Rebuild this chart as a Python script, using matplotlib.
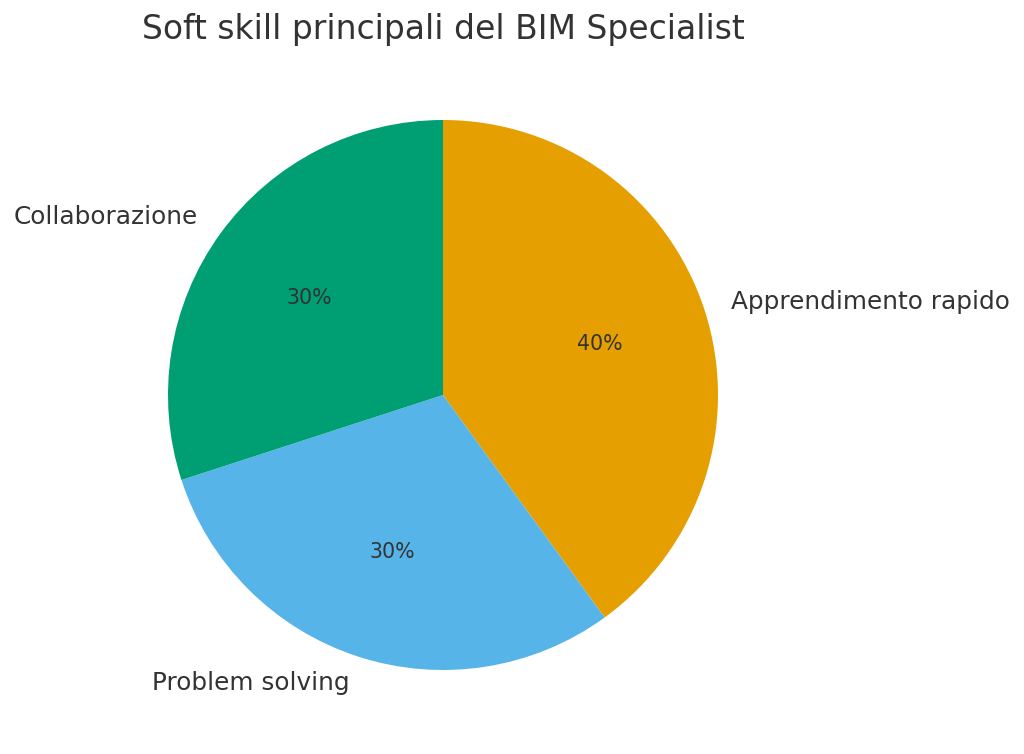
import matplotlib
matplotlib.use("Agg")
import matplotlib.pyplot as plt

labels = ["Apprendimento rapido", "Problem solving", "Collaborazione"]
values = [40, 30, 30]
colors = ["#E69F00", "#56B4E9", "#009E73"]
title = "Soft skill principali del BIM Specialist"

plt.rcParams['font.family'] = ['DejaVu Sans']
fig = plt.figure(figsize=(10.24, 7.54), dpi=100)
W, H = 1024, 754
cx, cy, r = 443, 754 - 395, 275
half = 1.25 * r
ax = fig.add_axes([(cx - half) / W, (cy - half) / H, 2 * half / W, 2 * half / H])
wedges, texts, autotexts = ax.pie(values, labels=labels, colors=colors, startangle=90,
                                  counterclock=False, autopct='%1.0f%%',
                                  textprops={'color': '#333333', 'fontsize': 17.8})
for t in autotexts:
    t.set_fontsize(14.8)
ax.set_aspect('equal')
fig.text(cx / W, 1 - 30 / H, title, ha='center', va='center', fontsize=23.8, color='#333333')
fig.savefig("out.png", dpi=100)
